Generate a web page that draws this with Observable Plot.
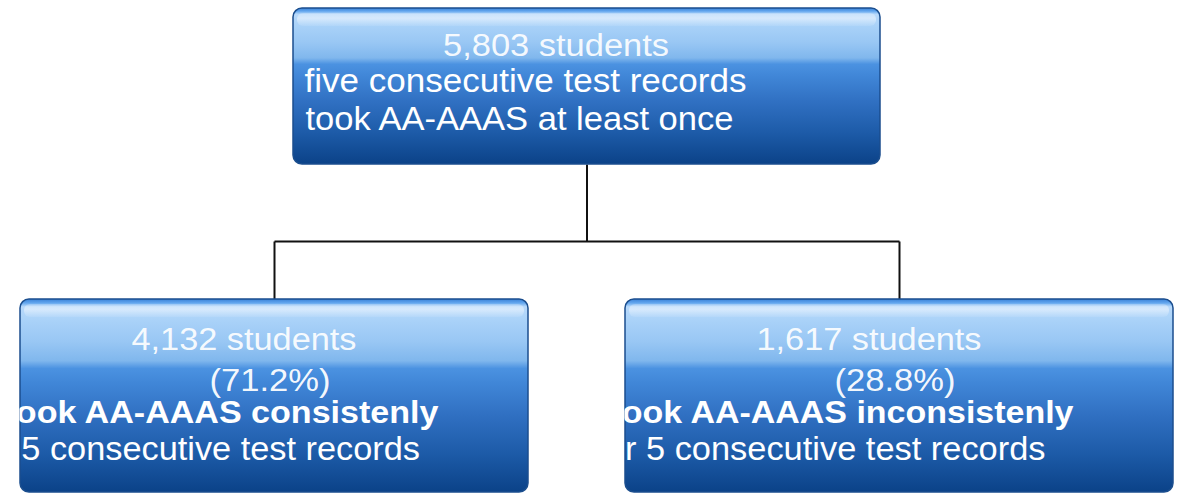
<!DOCTYPE html>
<html>
<head>
<meta charset="utf-8">
<script src="https://cdn.jsdelivr.net/npm/d3@7"></script>
<script src="https://cdn.jsdelivr.net/npm/@observablehq/plot@0.6"></script>
<style>
  html, body { margin: 0; padding: 0; background: #ffffff; }
  #chart svg { display: block; }
</style>
</head>
<body>
<div id="chart"></div>
<script>
// ---------- data ----------
const totalStudents = 5803;
const rootLines = ["five consecutive test records", "took AA-AAAS at least once"];
const groupNames = ["consistent", "inconsistent"];
const groupStudents = [4132, 1617];
const groupPercents = [71.2, 28.8];
const groupHeadlines = ["took AA-AAAS consistenly", "took AA-AAAS inconsistenly"];
const groupSublines = ["over 5 consecutive test records", "over 5 consecutive test records"];

// ---------- layout (positions / sizes) ----------
const W = 1180, H = 493;
const layout = {
  root: {x1: 293, x2: 880, y1: 8, y2: 164},
  kids: [
    {x1: 20, x2: 528, y1: 299, y2: 492, headLen: 434, headOff: -53, subLen: 475},
    {x1: 625, x2: 1173, y1: 299, y2: 492, headLen: 463, headOff: -57.5, subLen: 476}
  ],
  busY: 241
};
const fmt = d3.format(",");

const boxes = [layout.root, ...layout.kids].map((b, i) => ({...b, id: i}));
const cx = b => (b.x1 + b.x2) / 2;

// connectors
const links = [
  {x1: cx(layout.root), y1: layout.root.y2, x2: cx(layout.root), y2: layout.busY},
  {x1: cx(layout.kids[0]), y1: layout.busY, x2: cx(layout.kids[1]), y2: layout.busY},
  ...layout.kids.map(k => ({x1: cx(k), y1: layout.busY, x2: cx(k), y2: k.y1}))
];

// text rows
const normalText = [
  {text: `${fmt(totalStudents)} students`, x: cx(layout.root) - 31, y: 55, anchor: "middle", size: 31, len: 226, box: 0, op: 0.93},
  {text: rootLines[0], x: 304, y: 91, anchor: "start", size: 34, len: 442, box: 0, op: 1},
  {text: rootLines[1], x: 305, y: 129, anchor: "start", size: 34, len: 428, box: 0, op: 1}
];
const boldText = [];
layout.kids.forEach((k, i) => {
  const c = cx(k);
  normalText.push({text: `${fmt(groupStudents[i])} students`, x: c - 30.5, y: 349, anchor: "middle", size: 31, len: 225, box: i + 1, op: 0.93});
  normalText.push({text: `(${groupPercents[i].toFixed(1)}%)`, x: c - 4.5, y: 390, anchor: "middle", size: 32, len: 121, box: i + 1, op: 0.96});
  normalText.push({text: groupSublines[i], x: c - 92, y: 459, anchor: "middle", size: 33, len: k.subLen, box: i + 1, op: 1});
  boldText.push({text: groupHeadlines[i], x: c + k.headOff, y: 422, anchor: "middle", size: 32, len: k.headLen, box: i + 1, op: 1});
});

const textOpts = {
  x: "x", y: "y", text: "text",
  fontSize: "size",
  textAnchor: "start",
  lineAnchor: "bottom",
  fill: "white",
  fontFamily: "'Liberation Sans', Arial, Helvetica, sans-serif"
};

const plot = Plot.plot({
  width: W, height: H,
  margin: 0,
  x: {domain: [0, W], range: [0, W], axis: null},
  y: {domain: [0, H], range: [0, H], axis: null},
  style: {background: "#ffffff"},
  marks: [
    Plot.link(links, {x1: "x1", y1: "y1", x2: "x2", y2: "y2", stroke: "#111111", strokeWidth: 2}),
    Plot.rect(boxes, {x1: "x1", x2: "x2", y1: "y1", y2: "y2", rx: 9, fill: "url(#boxGrad)", stroke: "#1b4e8e", strokeWidth: 1.5}),
    Plot.rect(boxes, {x1: d => d.x1 + 4, x2: d => d.x2 - 4, y1: d => d.y1 + 5, y2: d => d.y1 + 18, rx: 6, fill: "url(#glossGrad)"}),
    Plot.text(normalText, textOpts),
    Plot.text(boldText, {...textOpts, fontWeight: "bold"})
  ]
});

// ---------- defs: gradients and clip paths ----------
const svg = d3.select(plot);
const defs = svg.insert("defs", ":first-child");
const g = defs.append("linearGradient").attr("id", "boxGrad").attr("x1", 0).attr("y1", 0).attr("x2", 0).attr("y2", 1);
[
  [0.00, "#3a82d8"], [0.02, "#62a6ee"], [0.04, "#b9dafb"], [0.12, "#a8d1f8"],
  [0.22, "#99c7f4"], [0.32, "#80b7ed"], [0.36, "#4b92e1"], [0.43, "#4187d8"],
  [0.60, "#3070c2"], [0.80, "#1d5ba8"], [1.00, "#0b4288"]
].forEach(([o, c]) => g.append("stop").attr("offset", o).attr("stop-color", c));
const gg = defs.append("linearGradient").attr("id", "glossGrad").attr("x1", 0).attr("y1", 0).attr("x2", 0).attr("y2", 1);
[[0, "#ffffff", 0.2], [0.4, "#ffffff", 0.45], [1, "#ffffff", 0.08]].forEach(([o, c, a]) =>
  gg.append("stop").attr("offset", o).attr("stop-color", c).attr("stop-opacity", a));

boxes.forEach((b, i) => {
  defs.append("clipPath").attr("id", `clipBox${i}`).attr("clipPathUnits", "userSpaceOnUse")
    .append("rect").attr("x", b.x1 - 1).attr("y", b.y1).attr("width", b.x2 - b.x1 + 2).attr("height", b.y2 - b.y1 + 2);
});

const groups = svg.selectAll('g[aria-label="text"]').nodes();
[normalText, boldText].forEach((rows, gi) => {
  const parent = groups[gi];
  d3.select(parent).selectAll("text").nodes().forEach((node, j) => {
    const r = rows[j];
    const el = d3.select(node);
    el.attr("textLength", r.len).attr("lengthAdjust", "spacingAndGlyphs")
      .attr("fill-opacity", r.op);
    if (r.anchor === "middle") {
      const t = el.attr("transform") || "";
      el.attr("transform", `${t} translate(${-r.len / 2},0)`);
    }
    // wrap in a clipping group (clip in parent coordinates)
    const wrap = document.createElementNS("http://www.w3.org/2000/svg", "g");
    wrap.setAttribute("clip-path", `url(#clipBox${r.box})`);
    parent.insertBefore(wrap, node);
    wrap.appendChild(node);
  });
});

document.getElementById("chart").appendChild(plot);
</script>
</body>
</html>
